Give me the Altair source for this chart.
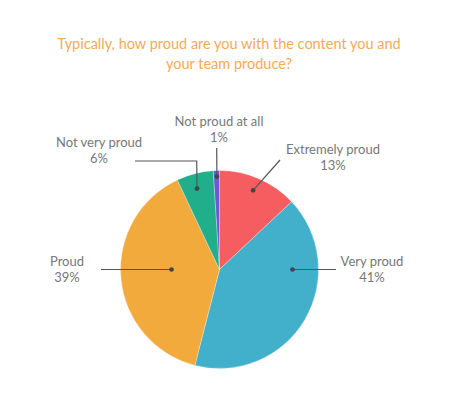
import altair as alt
import numpy as np
import pandas as pd

# survey answers, clockwise from 12 o'clock
answers = ["Extremely proud", "Very proud", "Proud", "Not very proud", "Not proud at all"]
shares = [13, 41, 39, 6, 1]
colors = ["#F65D61", "#42AFCB", "#F2AA3C", "#21AE8A", "#6A5BD2"]

title_lines = ["Typically, how proud are you with the content you and", "your team produce?"]

# layout (page pixels)
W, H = 434, 394
cx, cy, R = 219.5, 269.5, 99
# where each leader starts inside its slice: angle (deg, clockwise from top), radius
dot_angle = [23, 90, 270, 344.5, 358.4]
dot_r = [86, 73, 48, 84, 93]
# leader path after the dot, and label centre
leader_rest = [
    [(280, 160)],
    [(336, 269.5)],
    [(101, 269.5)],
    [(196.7, 161), (135, 161)],
    [(216.7, 148)],
]
label_xy = [(333, 150), (372, 262), (67, 262), (99, 143), (219, 122)]

xs = alt.Scale(domain=[8, 8 + W], range=[0, W])
ys = alt.Scale(domain=[8, 8 + H], range=[0, H])

slices = pd.DataFrame({"answer": answers, "share": shares, "idx": range(len(answers))})

dots = []
paths = []
for i, a in enumerate(answers):
    t = np.radians(dot_angle[i])
    px, py = cx + dot_r[i] * np.sin(t), cy - dot_r[i] * np.cos(t)
    dots.append({"answer": a, "x": px, "y": py})
    pts = [(px, py)] + leader_rest[i]
    for k, (qx, qy) in enumerate(pts):
        paths.append({"answer": a, "k": k, "x": qx, "y": qy})
dots = pd.DataFrame(dots)
paths = pd.DataFrame(paths)

labels = pd.DataFrame({
    "answer": answers,
    "pct": [f"{s}%" for s in shares],
    "x": [p[0] for p in label_xy],
    "y": [p[1] for p in label_xy],
    "y2": [p[1] + 15.5 for p in label_xy],
})

titles = pd.DataFrame({"t": title_lines, "x": [229, 229], "y": [45, 65]})

pie = alt.Chart(slices).mark_arc(outerRadius=R, stroke="#ffffff", strokeWidth=0.3).encode(
    theta=alt.Theta("share:Q", stack=True),
    order=alt.Order("idx:Q"),
    color=alt.Color("answer:N", scale=alt.Scale(domain=answers, range=colors), legend=None),
    x=alt.X(datum=cx, scale=xs, axis=None),
    y=alt.Y(datum=cy, scale=ys, axis=None),
)

lines = alt.Chart(paths).mark_line(color="#555555", strokeWidth=1.2).encode(
    x=alt.X("x:Q", scale=xs, axis=None),
    y=alt.Y("y:Q", scale=ys, axis=None),
    detail="answer:N",
    order="k:Q",
)

pts = alt.Chart(dots).mark_circle(color="#444444", size=22, opacity=1).encode(
    x=alt.X("x:Q", scale=xs, axis=None),
    y=alt.Y("y:Q", scale=ys, axis=None),
)

txt_style = dict(font="Lato", fontSize=13, color="#777777", align="center", baseline="middle")
name_txt = alt.Chart(labels).mark_text(**txt_style).encode(
    x=alt.X("x:Q", scale=xs, axis=None),
    y=alt.Y("y:Q", scale=ys, axis=None),
    text="answer:N",
)
pct_txt = alt.Chart(labels).mark_text(**txt_style).encode(
    x=alt.X("x:Q", scale=xs, axis=None),
    y=alt.Y("y2:Q", scale=ys, axis=None),
    text="pct:N",
)

title_txt = alt.Chart(titles).mark_text(
    font="Lato", fontSize=14.5, color="#F4AA5A", align="center", baseline="middle"
).encode(
    x=alt.X("x:Q", scale=xs, axis=None),
    y=alt.Y("y:Q", scale=ys, axis=None),
    text="t:N",
)

chart = (
    alt.layer(pie, lines, pts, name_txt, pct_txt, title_txt)
    .properties(width=W, height=H, autosize=alt.AutoSizeParams(type="none"), padding=0)
    .configure_view(stroke=None)
)

chart.save("out.html", embed_options={"renderer": "svg", "actions": False})
